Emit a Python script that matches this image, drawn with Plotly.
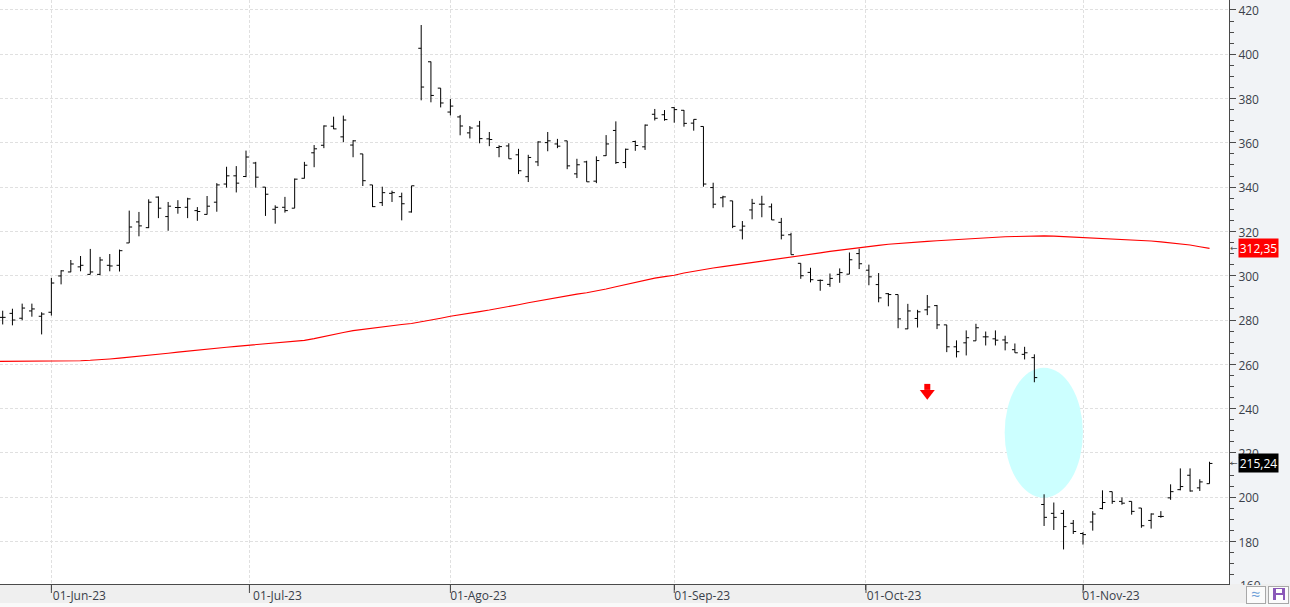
import plotly.graph_objects as go

opens = [281.2,283,280.8,284.1,281.7,283.5,299.9,301.7,304,300.6,300.6,304.7,304.7,314.8,324.3,321.7,335.5,326.7,330.8,330.9,
329.4,327.7,333.2,341.4,345.1,344.8,350.9,340,330,330.9,330.5,344,355.5,358.9,367.5,362.7,359,355,341,333,
337.2,335.7,328.8,402.7,396.6,384.7,373.9,371.7,364.5,367.6,361.8,357.9,358.6,354.6,344.7,351.4,360.1,359.5,360.9,346,
351.4,342.7,354.2,365.6,351.1,360.6,358.2,372.9,372.7,375.9,374.7,368.9,367.4,339.8,335.2,333.8,320.6,329.7,332.3,331.1,
324.1,318.5,305.6,301.5,297.9,296.1,300.6,300.7,310,302.5,296,291.9,291.5,276,280.7,284.6,286.5,277.8,267.9,269.7,
270.6,272.4,271.5,271,266.6,264.5,263,196.7,192.7,192.7,188.2,183.6,188.8,194.9,202.5,198.1,198.1,195.1,189.5,191.3,
199.7,203.4,209.9,204.2,206.1]
highs = [284.2,285.1,287.4,287.4,283.5,299,302.5,307.1,308.9,312.1,308.5,309.8,311.8,329.4,328.8,334.5,335.8,333.3,334.1,335.2,
331,336,341.8,349.2,349.5,356.5,351.4,340,331.8,335.6,343.9,351.4,359,367.9,371.8,372.3,361.2,355,341,340.2,
338.4,337.5,340.6,413.2,396.7,384.7,379.8,372.6,367.6,369.9,364.9,358.9,359.8,357.3,354.6,360.7,364.9,361.8,360.9,352.8,
351.9,353.9,363.5,369.7,357.4,361,368.3,375.3,374.8,376.1,374.8,370.6,367.4,342,336.1,333.8,324.7,334.7,336.1,332.6,
326.1,319.4,305.6,303.6,298.3,301,303.3,310.5,312.2,305,301.2,292.2,291.5,287.3,284.6,291.3,286.8,277.8,270.8,275.3,
278.3,274.8,275.3,272.9,269.4,267.9,264.5,201.3,197.6,194.2,189.7,184.2,193.7,203.1,202.5,199.9,198.1,195.1,192.7,193.7,
205.8,213,213,208.1,216]
lows = [278,277.6,279.9,281.5,273.5,282,296.1,301.6,302,300.6,300.2,302,301.9,314.8,317.8,321.5,326,320.3,328,326,
324.8,327.6,328.9,339.8,337.6,344.5,339.8,327,323.5,328.5,330.5,343.9,349,357.6,366.2,360.3,353.5,340.5,331,331.5,
333.3,325,328.5,379.2,378.3,376,372.4,363.4,362,359.8,358.5,353.5,352.8,345.9,342.3,349.5,356.2,357.6,348.1,344.1,
342.4,341.8,354.1,350.5,348.6,356.4,356.8,370.1,370,369.1,367.3,365.5,340.2,330.5,330.9,321.5,316.4,325.5,326.4,325.2,
316.4,309.5,298.6,297,293.2,295,296.8,300.7,303,295.7,288,286.2,276.3,275.9,276.6,282.2,275.9,265.5,263.1,264,
270.6,268.5,268.5,266.3,265.2,262.2,251.9,187,185.2,176.4,183.4,178.6,184.9,194.5,197,196.6,192.1,186.2,185.8,190.7,
198.8,203.1,202.5,202.8,206.1]
closes = [281.2,280,285.4,285,282.7,296.7,302.2,305.3,304.7,301.7,307.1,304.4,311.3,322,322.5,333.2,330.5,331.4,330.8,334.7,
329,331.4,341,345.1,341.8,353.6,344.5,336.8,330.9,329.4,343.6,349.9,357.3,367.6,366.3,370.3,360.9,342.9,331.2,337.5,
337.5,332.5,340.6,385.2,381.4,378,376.6,367.6,366.7,361.9,361.5,358.3,352.8,347.4,353.4,360.4,360.9,358.5,349.6,350.1,
342.4,352,359.5,351.1,357.1,358.8,368,371.1,370.5,375,368.8,370.6,341.4,332.3,335.6,322.3,322.4,332.7,332.3,325.2,
318.3,309.5,300,298.2,297.9,298.8,301.4,307.2,305.4,299.5,290,291.5,280.5,284.1,283.7,285.9,277.8,267.9,265.7,272,
276.5,272.4,270.9,269.7,265.2,265.2,254,190.9,190.9,186.7,184.5,183.1,192.4,197.6,198.1,197.3,193.6,187.1,192.4,191.3,
202.5,204.8,202.8,206.9,215.24]
ma_values = [261.3,261.3,261.3,261.3,261.3,261.4,261.4,261.4,261.5,261.6,261.8,
262.0,262.4,262.8,263.2,263.6,263.9,264.4,265.0,265.5,266.0,
266.5,266.9,267.3,267.7,268.1,268.5,268.9,269.3,269.7,270.0,
270.4,270.8,271.6,272.6,273.5,274.4,275.2,275.8,276.3,276.9,
277.5,278.0,278.4,279.1,280.0,280.8,281.7,282.5,283.1,283.8,
284.5,285.2,286.0,286.9,287.8,288.6,289.5,290.3,291.0,291.7,
292.3,293.0,294.0,295.0,296.0,297.0,298.0,298.9,299.6,300.2,
301.2,302.0,302.9,303.5,304.1,304.7,305.3,305.9,306.5,307.1,
307.7,308.2,308.8,309.6,310.3,311.0,311.6,312.2,312.8,313.3,
313.7,314.2,314.6,315.0,315.3,315.5,315.8,316.1,316.4,316.7,
317.0,317.2,317.4,317.6,317.7,317.9,318.0,318.0,317.9,317.7,
317.4,317.2,317.0,316.8,316.5,316.3,316.1,315.9,315.7,315.3,
314.9,314.4,313.9,313.1,312.35]
tick_labels = ["01-Jun-23","01-Jul-23","01-Ago-23","01-Sep-23","01-Oct-23","01-Nov-23"]
tick_positions = [5, 25.35, 46, 69, 88.7, 111]
signal_index = [95]
signal_stem = [249.8]
signal_head = [246.9]
ma_last = "312,35"
price_last = "215,24"
ma_tag_value = 312.35
price_tag_value = 215.24
y_ticks = [180,200,220,240,260,280,300,320,340,360,380,400,420]

x = list(range(len(opens)))
ma_x = list(range(-1, len(opens)))
FONT = "Open Sans"
TEXT = "#3a3f4a"
AXIS = "#4a4a4a"
GRID = "#e0e0e0"
PLOT_W = 1229.5
PLOT_H = 584.0

def px(v): return v / PLOT_W
def py(v): return (PLOT_H - v) / PLOT_H

fig = go.Figure()
fig.add_trace(go.Scatter(x=ma_x, y=ma_values, mode="lines", line=dict(color="#ff0000", width=1.1), hoverinfo="skip"))
fig.add_trace(go.Ohlc(x=x, open=opens, high=highs, low=lows, close=closes, tickwidth=0.3,
                      increasing=dict(line=dict(color="black", width=1)),
                      decreasing=dict(line=dict(color="black", width=1))))
fig.add_trace(go.Scatter(x=signal_index, y=signal_stem, mode="markers", marker=dict(symbol="square", size=6, color="#ff0000", line=dict(width=0))))
fig.add_trace(go.Scatter(x=signal_index, y=signal_head, mode="markers", marker=dict(symbol="triangle-down", size=13, color="#ff0000", line=dict(width=0))))

def box(xa, ya, xb, yb, color, line=None):
    return dict(text=" ", showarrow=False, xref="paper", yref="paper", xanchor="left", yanchor="top",
                x=px(xa), y=py(ya), width=xb-xa, height=yb-ya, bgcolor=color, borderpad=0, borderwidth=1 if line else 0,
                bordercolor=line or color, font=dict(size=1))

def label(text, xa, ya, color=TEXT, size=12, anchor="left"):
    return dict(text=text, showarrow=False, xref="paper", yref="paper", xanchor=anchor, yanchor="middle",
                x=px(xa), y=py(ya), font=dict(family=FONT, size=size, color=color), borderpad=0)

def tag(text, value, bg):
    return dict(text=text, showarrow=False, xref="paper", yref="y", xanchor="left", yanchor="middle",
                x=px(1239), y=value, width=39, height=18, bgcolor=bg, borderpad=0,
                font=dict(family=FONT, size=12, color="white"))

def pointer(value):
    return dict(text="←", showarrow=False, xref="paper", yref="y", xanchor="left", yanchor="middle",
                x=px(1229.5), y=value, font=dict(family="DejaVu Sans", size=9, color="#555555"), borderpad=0)

annotations = [
    tag(ma_last, ma_tag_value, "#ff0000"),
    tag(price_last, price_tag_value, "#000000"),
    pointer(ma_tag_value),
    pointer(price_tag_value),
    label("160", 1240, 585),
    box(1231, 584.5, 1290, 591, "#efefef"),
    box(1247, 586, 1265, 602, "#fbfbfb", "#a8a8a8"),
    label("≈", 1256, 594, color="#6f9fd8", size=16, anchor="center"),
    box(1269, 586, 1288, 602, "#fbfbfb", "#a8a8a8"),
    box(1274, 588, 1286, 600, "#8a58b8"),
    box(1277, 588.5, 1283, 592, "#ffffff"),
    box(1276.5, 595, 1283.5, 600, "#ffffff"),
]

shapes = [
    dict(type="rect", xref="paper", yref="paper", x0=0, x1=px(1290), y0=py(584), y1=py(603), fillcolor="#efefef", line=dict(width=0), layer="below"),
    dict(type="rect", xref="paper", yref="paper", x0=0, x1=px(1290), y0=py(603), y1=py(607), fillcolor="#f9f9f9", line=dict(width=0), layer="below"),
    dict(type="circle", xref="x", yref="y", x0=102.95, x1=110.99, y0=199.8, y1=258.5, fillcolor="#ccffff", line=dict(width=0), layer="between"),
]
for pos in tick_positions:
    shapes.append(dict(type="line", xref="x", yref="paper", x0=pos, x1=pos, y0=py(584), y1=py(593),
                       line=dict(color=AXIS, width=1), layer="below"))

fig.update_layout(
    width=1290, height=607, autosize=False,
    margin=dict(l=0, r=60.5, t=0, b=23, pad=0, autoexpand=False),
    paper_bgcolor="#f1f3f6", plot_bgcolor="white",
    showlegend=False, dragmode=False, hovermode=False,
    font=dict(family=FONT, size=12, color=TEXT),
    shapes=shapes, annotations=annotations,
    xaxis=dict(range=[-0.277, 126.0], rangeslider=dict(visible=False), tickmode="array",
               tickvals=tick_positions, ticktext=tick_labels, ticks="outside", ticklen=5, tickwidth=1,
               tickcolor=AXIS, ticklabelshift=28, ticklabelstandoff=-4, showline=True, linecolor=AXIS, linewidth=1,
               showgrid=True, gridcolor=GRID, griddash="3px,2px", gridwidth=1, zeroline=False, tickangle=0),
    yaxis=dict(range=[160.8, 424.5], side="right", tickmode="array", tickvals=y_ticks,
               ticks="outside", ticklen=6, tickwidth=1, tickcolor=AXIS, showline=True, linecolor=AXIS, linewidth=1,
               ticklabelshift=1, ticklabeloverflow="allow",
               showgrid=True, gridcolor=GRID, griddash="3px,2px", gridwidth=1, zeroline=False,
               minor=dict(ticks="outside", ticklen=4, tickwidth=1, tickcolor=AXIS, dtick=5, tick0=0, showgrid=False)),
)

fig.write_html("out.html", config=dict(displayModeBar=False), post_script="document.body.style.margin='0';")
